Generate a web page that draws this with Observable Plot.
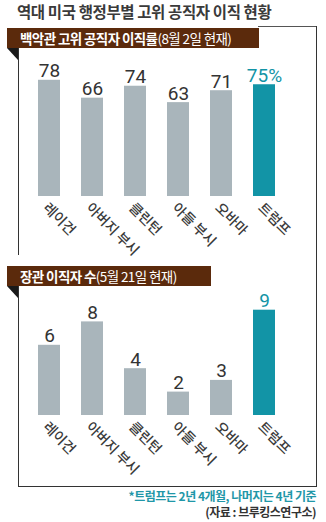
<!DOCTYPE html>
<html><head><meta charset="utf-8">
<script src="https://cdn.jsdelivr.net/npm/d3@7"></script>
<script src="https://cdn.jsdelivr.net/npm/@observablehq/plot@0.6"></script>
<style>
html,body{margin:0;padding:0;background:#fff;}
#wrap{position:relative;width:326px;height:522px;overflow:hidden;font-family:"Noto Sans CJK KR","Noto Sans",sans-serif;color:#333;}
.abs{position:absolute;}
#title{left:17px;top:1px;font-size:15.5px;line-height:20px;font-weight:700;letter-spacing:-0.4px;color:#3a3a3a;white-space:nowrap;}
.hdr{background:#5b2a0c;color:#fff;font-size:13.5px;letter-spacing:-0.6px;white-space:nowrap;line-height:20px;padding-left:13px;box-sizing:border-box;}
.hdr b{font-weight:700;}
.hdr span{font-weight:400;}
.fold{width:0;height:0;border-top:12px solid #1a1a1a;border-left:11px solid transparent;}
.line{background:#333;}
.foot{right:10px;font-size:12px;line-height:16px;letter-spacing:-0.5px;white-space:nowrap;font-weight:700;text-align:right;}
</style></head>
<body><div id="wrap">
<div id="title" class="abs">역대 미국 행정부별 고위 공직자 이직 현황</div>
<div class="abs line" style="left:258px;top:26px;width:59px;height:1px;background:#555"></div>
<div class="abs line" style="left:316px;top:26px;width:1px;height:461px;"></div>
<div class="abs line" style="left:18px;top:48px;width:1px;height:207px;"></div>
<div class="abs line" style="left:18px;top:286px;width:1px;height:201px;"></div>
<div class="abs line" style="left:18px;top:486px;width:299px;height:1px;"></div>
<div class="abs hdr" style="left:7px;top:28px;width:252px;height:20px;"><b>백악관 고위 공직자 이직률</b><span>(8월 2일 현재)</span></div>
<div class="abs fold" style="left:7px;top:48px;"></div>
<div class="abs hdr" style="left:7px;top:266px;width:204px;height:20px;"><b>장관 이직자 수</b><span>(5월 21일 현재)</span></div>
<div class="abs fold" style="left:7px;top:286px;"></div>
<div id="c1" class="abs" style="left:19px;top:50px;"></div>
<div id="c2" class="abs" style="left:19px;top:286px;"></div>
<div class="abs foot" style="top:488px;color:#1f97a8;">*트럼프는 2년 4개월, 나머지는 4년 기준</div>
<div class="abs foot" style="top:504px;color:#333;">(자료 : 브루킹스연구소)</div>
</div>
<script>
const presidents = ["레이건", "아버지 부시", "클린턴", "아들 부시", "오바마", "트럼프"];
const turnoverRate = [78, 66, 74, 63, 71, 75];
const rateLabels = ["78", "66", "74", "63", "71", "75%"];
const cabinetDepartures = [6, 8, 4, 2, 3, 9];
const departureLabels = ["6", "8", "4", "2", "3", "9"];
const highlight = "트럼프";

const GRAY = "#a9b5bb", TEAL = "#1294a6";

function chart(values, labels, yDomain, yRange) {
  const data = presidents.map((p, i) => ({p, v: values[i], label: labels[i], hi: p === highlight}));
  return Plot.plot({
    width: 297, height: 200,
    marginLeft: 8.5, marginRight: 30.5, marginTop: 0, marginBottom: 0,
    x: {domain: presidents, paddingInner: 0.49, paddingOuter: 0.245, axis: null},
    y: {domain: yDomain, range: yRange, axis: null},
    style: {overflow: "visible", background: "transparent"},
    marks: [
      Plot.barY(data, {x: "p", y: "v", fill: d => d.hi ? TEAL : GRAY}),
      Plot.text(data, {x: "p", y: "v", text: "label", dy: -3, lineAnchor: "bottom",
        fill: d => d.hi ? TEAL : "#333", fontSize: 19,
        fontFamily: "Roboto, sans-serif", fontWeight: d => d.hi ? 500 : 400}),
      Plot.text(data, {x: "p", y: 0, text: "p", rotate: 45, textAnchor: "start", lineAnchor: "middle",
        dx: -4, dy: 9, fill: "#3a3a3a", fontSize: 14, fontWeight: 500,
        fontFamily: "'Noto Sans CJK KR', sans-serif"})
    ]
  });
}
document.getElementById("c1").appendChild(chart(turnoverRate, rateLabels, [0, 78], [146, 146 - 78 * 1.49]));
document.getElementById("c2").appendChild(chart(cabinetDepartures, departureLabels, [0, 9], [129, 129 - 9 * 11.7]));
</script>
</body></html>
